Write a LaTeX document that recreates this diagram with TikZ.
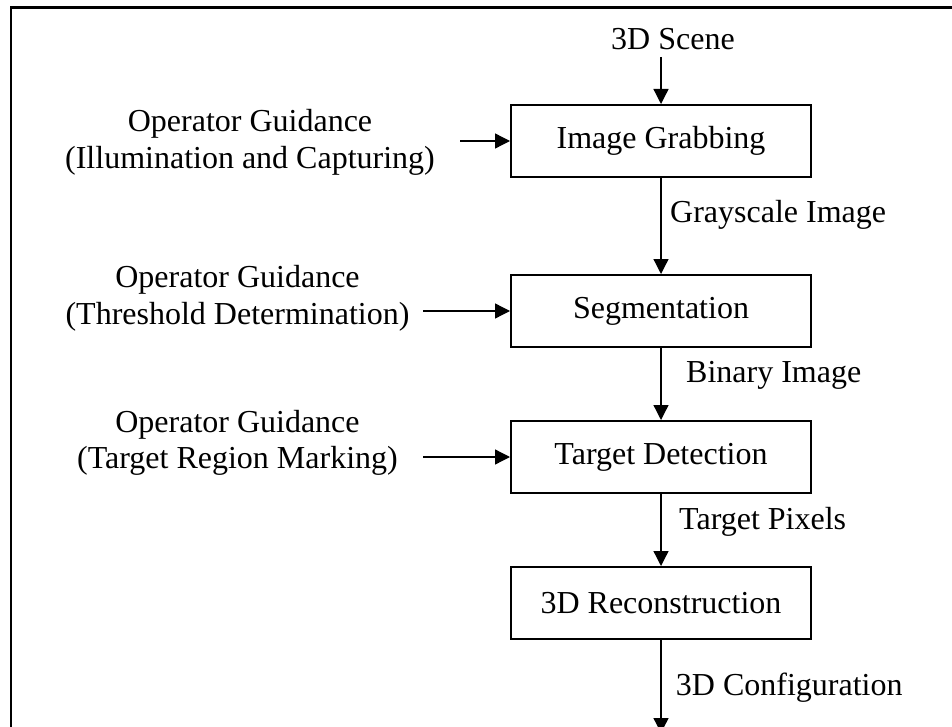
\documentclass[tikz,border=0pt]{standalone}
\usepackage{fontspec}
\setmainfont{Liberation Serif}
\usepackage{tikz}
\usetikzlibrary{positioning, arrows.meta}

\begin{document}
\begin{tikzpicture}[x=1pt, y=-1pt, node distance=72pt,
    font=\fontsize{32}{36.6}\selectfont,
    block/.style={rectangle, draw, line width=2pt, minimum width=300pt, minimum height=72pt, inner sep=0pt},
    guide/.style={align=center, inner sep=0pt},
    tag/.style={anchor=base west, inner sep=0pt},
    arrow/.style={-{Triangle[length=15pt, width=15pt]}, line width=1.3pt},
    frame/.style={line width=2.5pt}]

\useasboundingbox (0,0) rectangle (952,727);

% Frame (only top and left sides show)
\draw [frame] (11,727) |- (952,7.5);

% Nodes
\node [tag] (scene) at (611,50) {3D Scene};
\node [block] (grab) at (661,141) {Image Grabbing};
\node [block, below=96pt of grab] (seg) {Segmentation};
\node [block, below=of seg] (detect) {Target Detection};
\node [block, below=of detect] (recon) {3D Reconstruction};
\coordinate [below=93pt of recon] (config);

\node [guide] (guide1) at (250,142.5) {Operator Guidance\\(Illumination and Capturing)};
\node [guide] (guide2) at (237.5,298.2) {Operator Guidance\\(Threshold Determination)};
\node [guide] (guide3) at (237.5,442.7) {Operator Guidance\\(Target Region Marking)};
\coordinate [left=50pt of grab.west] (in1);
\coordinate [left=87pt of seg.west] (in2);
\coordinate [left=87pt of detect.west] (in3);

\node [tag] (gray) at (670,223) {Grayscale Image};
\node [tag] (binary) at (686,382.7) {Binary Image};
\node [tag] (pixels) at (679,529) {Target Pixels};
\node [tag] (conf) at (675.7,695) {3D Configuration};

% Arrows
\draw [arrow] ([yshift=-7pt]scene.base -| grab.north) -- (grab.north);
\draw [arrow] (grab) -- (seg);
\draw [arrow] (seg) -- (detect);
\draw [arrow] (detect) -- (recon);
\draw [arrow] (recon) -- (config);
\draw [arrow] (in1) -- (grab);
\draw [arrow] (in2) -- (seg);
\draw [arrow] (in3) -- (detect);

\end{tikzpicture}
\end{document}
